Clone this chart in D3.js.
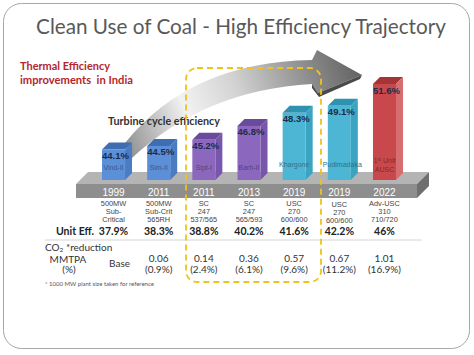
<!DOCTYPE html>
<html><head><meta charset="utf-8">
<script src="https://cdn.jsdelivr.net/npm/d3@7"></script>
<style>html,body{margin:0;padding:0;background:#fff;}svg{display:block;}</style>
</head><body>
<svg id="chart" width="474" height="355"></svg>
<script>
// ---- data ----
const years = ["1999","2011","2011","2013","2019","2019","2022"];
const plants = ["Vind-II","Sim-II","Sipt-I","Barh-II","Khargone","Pudimadaka","1st Unit AUSC"];
const turbineEff = [44.1, 44.5, 45.2, 46.8, 48.3, 49.1, 51.6];
const techGroup = ["sub","sub","sc","sc","usc","usc","ausc"];
const specs = [["500MW","Sub-","Critical"],["500MW","Sub-Crit","565RH"],["SC","247","537/565"],["SC","247","565/593"],["USC","270","600/600"],["USC","270","600/600"],["Adv-USC","310","710/720"]];
const unitEff = ["37.9%","38.3%","38.8%","40.2%","41.6%","42.2%","46%"];
const co2Mmtpa = ["Base","0.06","0.14","0.36","0.57","0.67","1.01"];
const co2Pct = [null,"(0.9%)","(2.4%)","(6.1%)","(9.6%)","(11.2%)","(16.9%)"];

const palette = {
  sub:  {front:"#5b8fd8", top:"#3f6db2", side:"#4a7cc4"},
  sc:   {front:"#8b68be", top:"#6a4a9a", side:"#7756ab"},
  usc:  {front:"#4db6d4", top:"#2f92b0", side:"#3ba4c3"},
  ausc: {front:"#c9484b", top:"#a53437", side:"#d66e70"}
};

const svg = d3.select("#chart");
const sans = "Lato, 'Open Sans', sans-serif";
const arial = "'Liberation Sans', Arial, sans-serif";

// fit a text's font size so that its natural width matches a target width
function fitWidth(sel, target) {
  const fs = +sel.attr("font-size");
  const w = sel.node().getComputedTextLength();
  if (w > 0) sel.attr("font-size", (fs * target / w).toFixed(2));
  return sel;
}

// frame
svg.append("rect").attr("x",3.5).attr("y",3.5).attr("width",466).attr("height",345)
  .attr("rx",18).attr("fill","#fff").attr("stroke","#a6a6a6").attr("stroke-width",1);

// title
fitWidth(svg.append("text").attr("x",241).attr("y",34).attr("text-anchor","middle")
  .attr("font-family",sans).attr("font-size",24).attr("fill","#595959")
  .text("Clean Use of Coal - High Efficiency Trajectory"), 410);

// red subtitle
fitWidth(svg.append("text").attr("x",20).attr("y",70).attr("font-family",sans).attr("font-weight","bold")
  .attr("font-size",11.5).attr("fill","#b5262c").text("Thermal Efficiency"), 90);
fitWidth(svg.append("text").attr("x",20).attr("y",83.5).attr("font-family",sans).attr("font-weight","bold")
  .attr("font-size",11.5).attr("fill","#b5262c").attr("xml:space","preserve").text("improvements  in India"), 113);

// scales
const n = years.length;
const x = d3.scaleBand().domain(d3.range(n)).range([102, 396]).paddingInner(0.49).paddingOuter(0);
const baseY = 180;
const y = d3.scaleLinear().domain([40.6, 51.6]).range([baseY, 84]);
const bw = x.bandwidth();
const d = 7;
const cx = i => x(i) + bw / 2;

// gradient for arrow
const defs = svg.append("defs");
const g = defs.append("linearGradient").attr("id","arrowGrad").attr("gradientUnits","userSpaceOnUse")
  .attr("x1",125).attr("y1",150).attr("x2",362).attr("y2",60);
[[0,"#8e8e8e"],[0.28,"#f2f2f2"],[0.5,"#d2d2d2"],[0.78,"#8d8d8d"],[1,"#5e5e5e"]]
  .forEach(s => g.append("stop").attr("offset",s[0]).attr("stop-color",s[1]));

// platform
const pl = {x0:76, x1:417, yTop:184, yBot:198, dx:12, dy:12};
svg.append("polygon").attr("points",[[pl.x0,pl.yTop],[pl.x0+pl.dx,pl.yTop-pl.dy],[pl.x1+pl.dx,pl.yTop-pl.dy],[pl.x1,pl.yTop]].join(" "))
  .attr("fill","#b4b4b4");
svg.append("rect").attr("x",pl.x0).attr("y",pl.yTop).attr("width",pl.x1-pl.x0).attr("height",pl.yBot-pl.yTop).attr("fill","#8e8e8e");
svg.append("polygon").attr("points",[[pl.x1,pl.yTop],[pl.x1+pl.dx,pl.yTop-pl.dy],[pl.x1+pl.dx,pl.yBot-pl.dy],[pl.x1,pl.yBot]].join(" "))
  .attr("fill","#6f6f6f");

// arrow (behind bars)
svg.append("path")
  .attr("d","M125,143 Q190,62 312,60 L317,50 L362,75 L318,93 L312,84 Q205,90 132,158 Z")
  .attr("fill","url(#arrowGrad)");
svg.append("path").attr("d","M312,84 L318,93 L362,75 L360,79 L319,97 L312,88 Z").attr("fill","#4a4a4a");

// bars
const bars = svg.append("g").selectAll("g").data(turbineEff).join("g");
bars.each(function(v, i) {
  const gEl = d3.select(this);
  const c = palette[techGroup[i]];
  const x0 = x(i), yt = y(v);
  gEl.append("polygon").attr("points",[[x0,yt],[x0+d,yt-d],[x0+bw+d,yt-d],[x0+bw,yt]].join(" ")).attr("fill",c.top);
  gEl.append("polygon").attr("points",[[x0+bw,yt],[x0+bw+d,yt-d],[x0+bw+d,baseY-d],[x0+bw,baseY]].join(" ")).attr("fill",c.side);
  gEl.append("rect").attr("x",x0).attr("y",yt).attr("width",bw).attr("height",baseY-yt).attr("fill",c.front);
  gEl.append("text").attr("x",cx(i)+2).attr("y",yt+9.5).attr("text-anchor","middle")
    .attr("font-family",arial).attr("font-weight","bold").attr("font-size",9.5).attr("fill","#1d2b48")
    .text(v.toFixed(1) + "%");
  const nameCol = d3.color(c.front).darker(1.3);
  if (plants[i].startsWith("1st")) {
    const t = gEl.append("text").attr("x",cx(i)).attr("y",163).attr("text-anchor","middle")
      .attr("font-family",arial).attr("font-size",7).attr("fill",nameCol);
    t.append("tspan").text("1");
    t.append("tspan").attr("dy",-2.5).attr("font-size",4.5).text("st");
    t.append("tspan").attr("dy",2.5).text(" Unit");
    gEl.append("text").attr("x",cx(i)).attr("y",172).attr("text-anchor","middle")
      .attr("font-family",arial).attr("font-size",7).attr("fill",nameCol).text("AUSC");
  } else {
    gEl.append("text").attr("x",cx(i)+(i===5?3:0)).attr("y",techGroup[i]==="usc"?167:170).attr("text-anchor","middle")
      .attr("font-family",arial).attr("font-size",7).attr("fill",nameCol).text(plants[i]);
  }
});

// year labels on platform
svg.append("g").selectAll("text").data(years).join("text")
  .attr("x",(v,i)=>cx(i)).attr("y",195.5).attr("text-anchor","middle")
  .attr("font-family",arial).attr("font-size",10).attr("fill","#fff").text(v => v);

// turbine cycle efficiency label
fitWidth(svg.append("text").attr("x",108).attr("y",125).attr("font-family",sans).attr("font-weight","bold")
  .attr("font-size",12).attr("fill","#333").text("Turbine cycle efficiency"), 112);

// spec lines
const specY = [205.5, 213.5, 221.5];
const specG = svg.append("g");
specs.forEach((lines, i) => {
  lines.forEach((s, k) => {
    specG.append("text").attr("x",cx(i)).attr("y",specY[k] + (i===5?1:0)).attr("text-anchor","middle")
      .attr("font-family",arial).attr("font-size",7.4).attr("fill","#454545").text(s);
  });
});

// Unit Eff row
svg.append("text").attr("x",56).attr("y",235).attr("font-family",sans).attr("font-weight","bold")
  .attr("font-size",10.5).attr("fill","#222").text("Unit Eff.");
svg.append("g").selectAll("text").data(unitEff).join("text")
  .attr("x",(v,i)=>cx(i)).attr("y",235).attr("text-anchor","middle")
  .attr("font-family",sans).attr("font-weight","bold").attr("font-size",10.5).attr("fill","#222").text(v=>v);
svg.append("line").attr("x1",45).attr("x2",422).attr("y1",240).attr("y2",240).attr("stroke","#d4d4d4").attr("stroke-width",1);

// CO2 row
const co2Label = svg.append("text").attr("x",45).attr("y",250.5).attr("font-family",sans).attr("font-size",10).attr("fill","#333");
co2Label.append("tspan").text("CO");
co2Label.append("tspan").attr("font-size",6.5).attr("dy",1.5).text("2");
co2Label.append("tspan").attr("dy",-1.5).text(" *reduction");
svg.append("text").attr("x",68).attr("y",262.5).attr("text-anchor","middle").attr("font-family",sans).attr("font-size",10).attr("fill","#333").text("MMTPA");
svg.append("text").attr("x",69).attr("y",273).attr("text-anchor","middle").attr("font-family",sans).attr("font-size",10).attr("fill","#333").text("(%)");
co2Mmtpa.forEach((v, i) => {
  const hasPct = co2Pct[i] !== null;
  svg.append("text").attr("x",cx(i)+(hasPct?0:6)).attr("y",hasPct?262:267).attr("text-anchor","middle")
    .attr("font-family",sans).attr("font-size",10).attr("fill","#333").text(v);
  if (hasPct) svg.append("text").attr("x",cx(i)).attr("y",273).attr("text-anchor","middle")
    .attr("font-family",sans).attr("font-size",10).attr("fill","#333").text(co2Pct[i]);
});

// footnote
svg.append("text").attr("x",45).attr("y",286).attr("font-family",sans).attr("font-size",6).attr("fill","#555")
  .text("* 1000 MW plant size taken for reference");

// dashed highlight box
svg.append("rect").attr("x",186).attr("y",68).attr("width",135).attr("height",214).attr("rx",11)
  .attr("fill","none").attr("stroke","#f0c21a").attr("stroke-width",1.8).attr("stroke-dasharray","6,4");
</script>
</body></html>
